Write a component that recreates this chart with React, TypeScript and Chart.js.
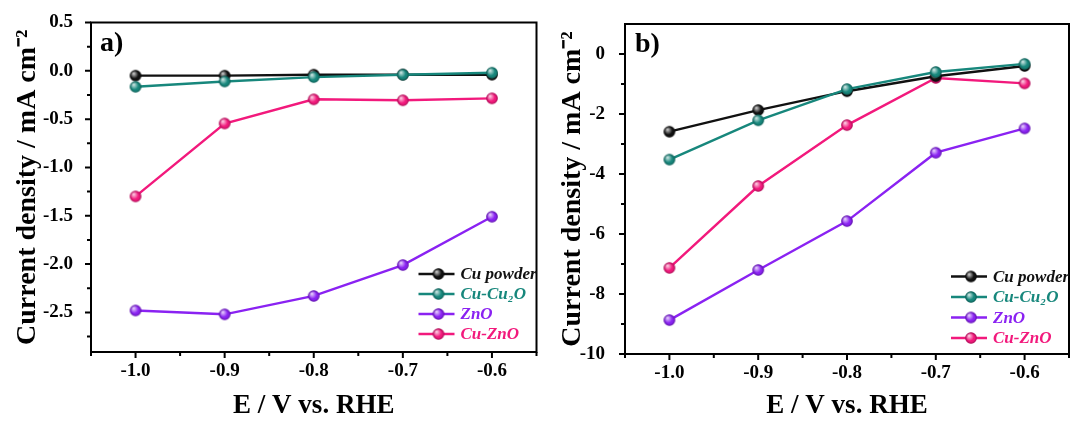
import React, { useEffect, useRef } from 'react';
import { Chart, registerables } from 'chart.js';

Chart.register(...registerables);

// ---------- data ----------
const potentials = [-1.0, -0.9, -0.8, -0.7, -0.6];
const seriesNames = ['Cu powder', 'Cu-Cu\u2082O', 'ZnO', 'Cu-ZnO'];
const seriesColors = ['#111111', '#17877c', '#8a22f2', '#f2197c'];

// panel a)
const aCuPowder = [-0.05, -0.05, -0.04, -0.04, -0.04];
const aCuCu2O = [-0.165, -0.11, -0.065, -0.04, -0.02];
const aZnO = [-2.48, -2.52, -2.33, -2.01, -1.51];
const aCuZnO = [-1.3, -0.545, -0.295, -0.305, -0.285];

// panel b)
const bCuPowder = [-2.59, -1.87, -1.24, -0.74, -0.4];
const bCuCu2O = [-3.52, -2.21, -1.17, -0.6, -0.33];
const bZnO = [-8.87, -7.2, -5.57, -3.29, -2.48];
const bCuZnO = [-7.13, -4.4, -2.37, -0.8, -0.98];

// ticks
const xTicks = [-1.0, -0.9, -0.8, -0.7, -0.6];
const xMinorTicks = [-1.05, -0.95, -0.85, -0.75, -0.65, -0.55];
const aYTicks = [0.5, 0.0, -0.5, -1.0, -1.5, -2.0, -2.5];
const aYMinorTicks = [0.25, -0.25, -0.75, -1.25, -1.75, -2.25, -2.75];
const bYTicks = [0, -2, -4, -6, -8, -10];
const bYMinorTicks = [-1, -3, -5, -7, -9];

const xTitle = 'E / V vs. RHE';
const yTitle = 'Current density / mA cm\u207B\u00B2';

const SERIF = "'Liberation Serif', 'Times New Roman', serif";

function makeBall(color: string, r = 5.8) {
  const size = Math.ceil(r * 2 + 2);
  const c = document.createElement('canvas');
  c.width = size;
  c.height = size;
  const ctx = c.getContext('2d')!;
  const cx = size / 2;
  const cy = size / 2;
  ctx.beginPath();
  ctx.arc(cx, cy, r, 0, Math.PI * 2);
  ctx.fillStyle = color;
  ctx.fill();
  const g = ctx.createRadialGradient(cx - r * 0.35, cy - r * 0.4, 0, cx - r * 0.2, cy - r * 0.2, r * 0.7);
  g.addColorStop(0, 'rgba(255,255,255,0.85)');
  g.addColorStop(1, 'rgba(255,255,255,0)');
  ctx.fillStyle = g;
  ctx.beginPath();
  ctx.arc(cx, cy, r, 0, Math.PI * 2);
  ctx.fill();
  const e = ctx.createRadialGradient(cx, cy, r * 0.6, cx, cy, r);
  e.addColorStop(0, 'rgba(0,0,0,0)');
  e.addColorStop(1, 'rgba(0,0,0,0.3)');
  ctx.fillStyle = e;
  ctx.beginPath();
  ctx.arc(cx, cy, r, 0, Math.PI * 2);
  ctx.fill();
  return c;
}

const framePlugin = {
  id: 'frame',
  afterDraw(chart: any, _args: any, opts: any) {
    const { ctx, chartArea } = chart;
    const { left, right, top, bottom } = chartArea;
    const xs = chart.scales.x;
    const ys = chart.scales.y;
    ctx.save();
    ctx.strokeStyle = '#000';
    ctx.lineWidth = 2;
    ctx.strokeRect(left, top, right - left, bottom - top);
    ctx.beginPath();
    (opts.xMajor || []).forEach((v: number) => {
      const p = xs.getPixelForValue(v);
      ctx.moveTo(p, bottom);
      ctx.lineTo(p, bottom + 6);
    });
    (opts.xMinor || []).forEach((v: number) => {
      const p = xs.getPixelForValue(v);
      ctx.moveTo(p, bottom);
      ctx.lineTo(p, bottom + 4);
    });
    (opts.yMajor || []).forEach((v: number) => {
      const p = ys.getPixelForValue(v);
      ctx.moveTo(left, p);
      ctx.lineTo(left - 6, p);
    });
    (opts.yMinor || []).forEach((v: number) => {
      const p = ys.getPixelForValue(v);
      ctx.moveTo(left, p);
      ctx.lineTo(left - 4, p);
    });
    ctx.stroke();

    ctx.fillStyle = '#000';
    ctx.font = `bold 28px ${SERIF}`;
    ctx.textBaseline = 'middle';
    ctx.textAlign = 'left';
    ctx.fillText(opts.label, left + opts.labelDx, top + opts.labelDy);

    const ds = chart.data.datasets;
    const x0 = right - opts.legendRight;
    ds.forEach((d: any, i: number) => {
      const y = bottom - opts.legendBottom - (ds.length - 1 - i) * opts.legendStep;
      ctx.strokeStyle = d.borderColor;
      ctx.lineWidth = 2.4;
      ctx.beginPath();
      ctx.moveTo(x0, y);
      ctx.lineTo(x0 + 36, y);
      ctx.stroke();
      const img = d.pointStyle;
      ctx.drawImage(img, x0 + 20 - img.width / 2, y - img.height / 2);
      ctx.fillStyle = d.borderColor;
      ctx.font = `italic bold 17px ${SERIF}`;
      ctx.textBaseline = 'middle';
      ctx.fillText(d.label, x0 + 42, y + 1);
    });
    ctx.restore();
  },
};

type PanelSpec = {
  series: number[][];
  yMin: number;
  yMax: number;
  yTicks: number[];
  yMinor: number[];
  yDecimals: number;
  yWidth: number;
  xHeight: number;
  padTop: number;
  padRight: number;
  yLabelPad: number;
  yTitlePad: number;
  label: string;
  labelDx: number;
  labelDy: number;
  legendRight: number;
  legendBottom: number;
  legendStep: number;
};

function buildConfig(p: PanelSpec): any {
  const balls = seriesColors.map((c) => makeBall(c));
  const drawOrder = [1, 0, 3, 2];
  return {
    type: 'line',
    data: {
      datasets: p.series.map((vals, i) => ({
        label: seriesNames[i],
        data: vals.map((v, k) => ({ x: potentials[k], y: v })),
        borderColor: seriesColors[i],
        backgroundColor: seriesColors[i],
        borderWidth: 2.4,
        pointStyle: balls[i],
        pointRadius: 6,
        order: drawOrder[i],
        tension: 0,
        fill: false,
      })),
    },
    options: {
      animation: false,
      responsive: false,
      devicePixelRatio: 1,
      layout: { autoPadding: false, padding: { left: 0, right: p.padRight, top: p.padTop, bottom: 0 } },
      plugins: {
        legend: { display: false },
        tooltip: { enabled: false },
        frame: {
          xMajor: xTicks,
          xMinor: xMinorTicks,
          yMajor: p.yTicks,
          yMinor: p.yMinor,
          label: p.label,
          labelDx: p.labelDx,
          labelDy: p.labelDy,
          legendRight: p.legendRight,
          legendBottom: p.legendBottom,
          legendStep: p.legendStep,
        },
      },
      scales: {
        x: {
          type: 'linear',
          min: -1.05,
          max: -0.55,
          grid: { display: false },
          border: { display: false },
          afterBuildTicks: (s: any) => {
            s.ticks = xTicks.map((v) => ({ value: v }));
          },
          afterFit: (s: any) => {
            s.height = p.xHeight;
            s.paddingLeft = 0;
            s.paddingRight = 0;
          },
          ticks: {
            padding: 0,
            color: '#000',
            font: { family: SERIF, size: 19, weight: 'bold' },
            callback: (v: number) => v.toFixed(1),
            maxRotation: 0,
          },
          title: {
            display: true,
            text: xTitle,
            color: '#000',
            font: { family: SERIF, size: 27, weight: 'bold', lineHeight: 1.1 },
            padding: { top: 0, bottom: 0 },
          },
        },
        y: {
          type: 'linear',
          min: p.yMin,
          max: p.yMax,
          grid: { display: false },
          border: { display: false },
          afterBuildTicks: (s: any) => {
            s.ticks = p.yTicks.map((v) => ({ value: v }));
          },
          afterFit: (s: any) => {
            s.width = p.yWidth;
          },
          ticks: {
            padding: p.yLabelPad,
            color: '#000',
            font: { family: SERIF, size: 19, weight: 'bold' },
            callback: (v: number) => v.toFixed(p.yDecimals),
          },
          title: {
            display: true,
            text: yTitle,
            color: '#000',
            font: { family: SERIF, size: 28, weight: 'bold', lineHeight: 1.1 },
            padding: { top: p.yTitlePad, bottom: 0 },
          },
        },
      },
    },
    plugins: [framePlugin],
  };
}

function Panel({ spec, left, width }: { spec: PanelSpec; left: number; width: number }) {
  const ref = useRef<HTMLCanvasElement | null>(null);
  useEffect(() => {
    if (!ref.current) return;
    const chart = new Chart(ref.current, buildConfig(spec));
    return () => chart.destroy();
  }, []);
  return (
    <canvas
      ref={ref}
      width={width}
      height={421}
      style={{ position: 'absolute', left, top: 0, width, height: 421 }}
    />
  );
}

const panelA: PanelSpec = {
  series: [aCuPowder, aCuCu2O, aZnO, aCuZnO],
  yMin: -2.91,
  yMax: 0.5,
  yTicks: aYTicks,
  yMinor: aYMinorTicks,
  yDecimals: 1,
  yWidth: 91,
  xHeight: 69,
  padTop: 22.5,
  padRight: 8.5,
  yLabelPad: 10,
  yTitlePad: 12,
  label: 'a)',
  labelDx: 9,
  labelDy: 21,
  legendRight: 118,
  legendBottom: 18,
  legendStep: 20,
};

const panelB: PanelSpec = {
  series: [bCuPowder, bCuCu2O, bZnO, bCuZnO],
  yMin: -10,
  yMax: 1,
  yTicks: bYTicks,
  yMinor: bYMinorTicks,
  yDecimals: 0,
  yWidth: 80,
  xHeight: 67,
  padTop: 24,
  padRight: 2,
  yLabelPad: 12,
  yTitlePad: 12,
  label: 'b)',
  labelDx: 10,
  labelDy: 21,
  legendRight: 118,
  legendBottom: 16,
  legendStep: 20.5,
};

export default function App() {
  return (
    <div style={{ position: 'absolute', left: 0, top: 0, width: 1071, height: 421, background: '#fff' }}>
      <Panel spec={panelA} left={0} width={545} />
      <Panel spec={panelB} left={545} width={526} />
    </div>
  );
}
